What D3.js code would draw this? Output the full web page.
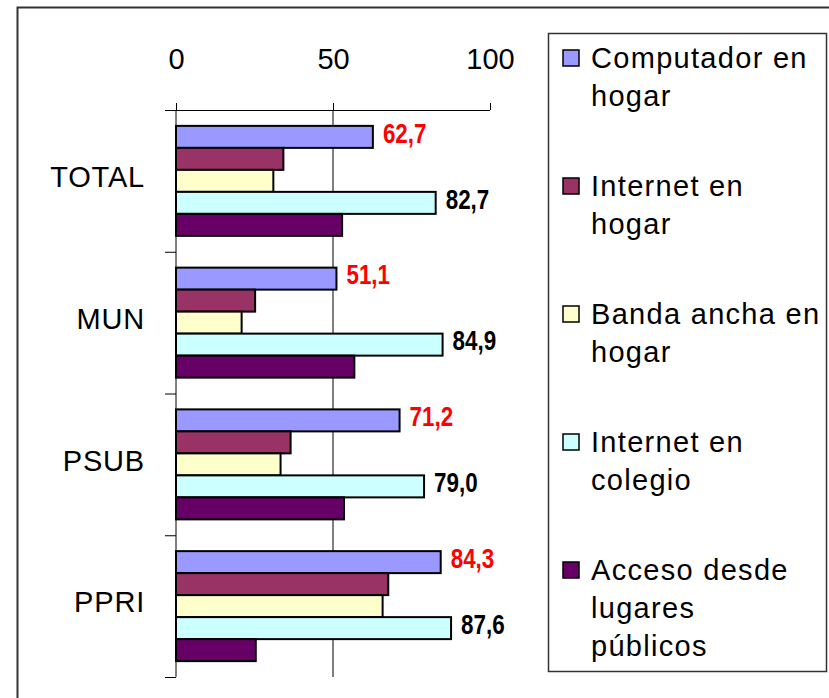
<!DOCTYPE html>
<html><head><meta charset="utf-8">
<script src="https://cdn.jsdelivr.net/npm/d3@7"></script>
<style>
body{margin:0;background:#fff;}
svg{display:block;}
</style></head>
<body>
<script>
const categories = ["TOTAL", "MUN", "PSUB", "PPRI"];
const seriesNames = ["Computador en hogar", "Internet en hogar", "Banda ancha en hogar", "Internet en colegio", "Acceso desde lugares públicos"];
const legendLines = [["Computador en", "hogar"], ["Internet en", "hogar"], ["Banda ancha en", "hogar"], ["Internet en", "colegio"], ["Acceso desde", "lugares", "públicos"]];
const computador = [62.7, 51.1, 71.2, 84.3];
const internetHogar = [34.2, 25.2, 36.5, 67.6];
const bandaAncha = [31.0, 20.9, 33.3, 65.8];
const internetColegio = [82.7, 84.9, 79.0, 87.6];
const accesoPublico = [52.9, 56.8, 53.5, 25.4];
const tickValues = [0, 50, 100];
const colors = ["#9999FF", "#993366", "#FFFFCC", "#CCFFFF", "#660066"];
const labelColors = ["#FF0000", null, null, "#000000", null];

const allSeries = [computador, internetHogar, bandaAncha, internetColegio, accesoPublico];

const W = 829, H = 698;
const svg = d3.select("body").append("svg").attr("width", W).attr("height", H);

// outer chart border
svg.append("rect").attr("x", 17.5).attr("y", 7.5).attr("width", W).attr("height", H)
  .attr("fill", "#fff").attr("stroke", "#333").attr("stroke-width", 2);

const plot = {left: 176, right: 490, top: 110, bottom: 677};
const x = d3.scaleLinear().domain([0, 100]).range([plot.left, plot.right]);
const y0 = d3.scaleBand().domain(categories).range([plot.top, plot.bottom]).paddingInner(0.224).paddingOuter(0.112);
const y1 = d3.scaleBand().domain(d3.range(seriesNames.length)).range([0, y0.bandwidth()]);

// gridline at 50
svg.append("g").selectAll("line").data(tickValues.filter(v => v === 50)).join("line")
  .attr("x1", d => x(d)).attr("x2", d => x(d)).attr("y1", plot.top).attr("y2", plot.bottom)
  .attr("stroke", "#000").attr("stroke-width", 1);

// bars
const groups = svg.append("g").selectAll("g").data(categories).join("g")
  .attr("transform", d => `translate(0,${y0(d)})`);
groups.selectAll("rect").data((c, ci) => allSeries.map((s, si) => ({si, v: s[ci]}))).join("rect")
  .attr("x", x(0)).attr("y", d => y1(d.si)).attr("width", d => x(d.v) - x(0)).attr("height", y1.bandwidth())
  .attr("fill", d => colors[d.si]).attr("stroke", "#000").attr("stroke-width", 2);

// value labels (condensed bold)
groups.selectAll("text").data((c, ci) => allSeries.map((s, si) => ({si, v: s[ci]})).filter(d => labelColors[d.si])).join("text")
  .attr("transform", d => `translate(${x(d.v) + 10},${y1(d.si) + y1.bandwidth() / 2 - 4}) scale(0.8,1)`)
  .attr("dy", "0.35em")
  .attr("fill", d => labelColors[d.si])
  .style("font-family", "'Liberation Sans',Arial,sans-serif")
  .style("font-weight", "bold").style("font-size", "28px")
  .text(d => d3.format(".1f")(d.v).replace(".", ","));

// top value axis
const xAxis = d3.axisTop(x).tickValues(tickValues).tickSize(7).tickPadding(12).tickSizeOuter(0);
const gx = svg.append("g").attr("transform", `translate(0,${plot.top})`).call(xAxis);
gx.select(".domain").attr("stroke", "#000").attr("d", `M${plot.left - 10},0.5H${plot.right}`);
gx.selectAll(".tick line").attr("stroke", "#000");
gx.selectAll(".tick text").attr("fill", "#000").style("font-family", "'Liberation Sans',Arial,sans-serif").style("font-size", "29px").attr("dy", 0).attr("y", -41);

// left category axis
const bounds = categories.map(c => y0(c) - y0.step() * y0.paddingInner() / 2).concat([plot.bottom]);
bounds[0] = plot.top;
const gy = svg.append("g");
gy.append("line").attr("x1", plot.left).attr("x2", plot.left).attr("y1", plot.top).attr("y2", plot.bottom).attr("stroke", "#000");
gy.selectAll("line.t").data(bounds).join("line").attr("class", "t")
  .attr("x1", plot.left - 11).attr("x2", plot.left).attr("y1", d => d + 0.5).attr("y2", d => d + 0.5).attr("stroke", "#000");
gy.selectAll("text").data(categories).join("text")
  .attr("x", 145).attr("y", d => y0(d) + y0.bandwidth() / 2 - 4).attr("dy", "0.35em")
  .attr("text-anchor", "end")
  .style("font-family", "'Liberation Sans',Arial,sans-serif").style("font-size", "29px")
  .style("letter-spacing", "0.8px")
  .text(d => d);

// legend
const lg = svg.append("g");
lg.append("rect").attr("x", 548.5).attr("y", 33.5).attr("width", 278).attr("height", 638)
  .attr("fill", "#fff").attr("stroke", "#333").attr("stroke-width", 1.5);
const entryY = d3.scaleLinear().domain([0, 4]).range([58, 570]);
const items = lg.selectAll("g").data(seriesNames).join("g")
  .attr("transform", (d, i) => `translate(0,${entryY(i)})`);
items.append("rect").attr("x", 563).attr("y", -8).attr("width", 16).attr("height", 16)
  .attr("fill", (d, i) => colors[i]).attr("stroke", "#000").attr("stroke-width", 1.5);
items.append("text")
  .style("font-family", "'Liberation Sans',Arial,sans-serif").style("font-size", "29px")
  .style("letter-spacing", "1.3px")
  .selectAll("tspan").data((d, i) => legendLines[i]).join("tspan")
  .attr("x", 591).attr("y", (d, j) => j * 38).attr("dy", "0.35em").text(d => d);
</script>
</body></html>
